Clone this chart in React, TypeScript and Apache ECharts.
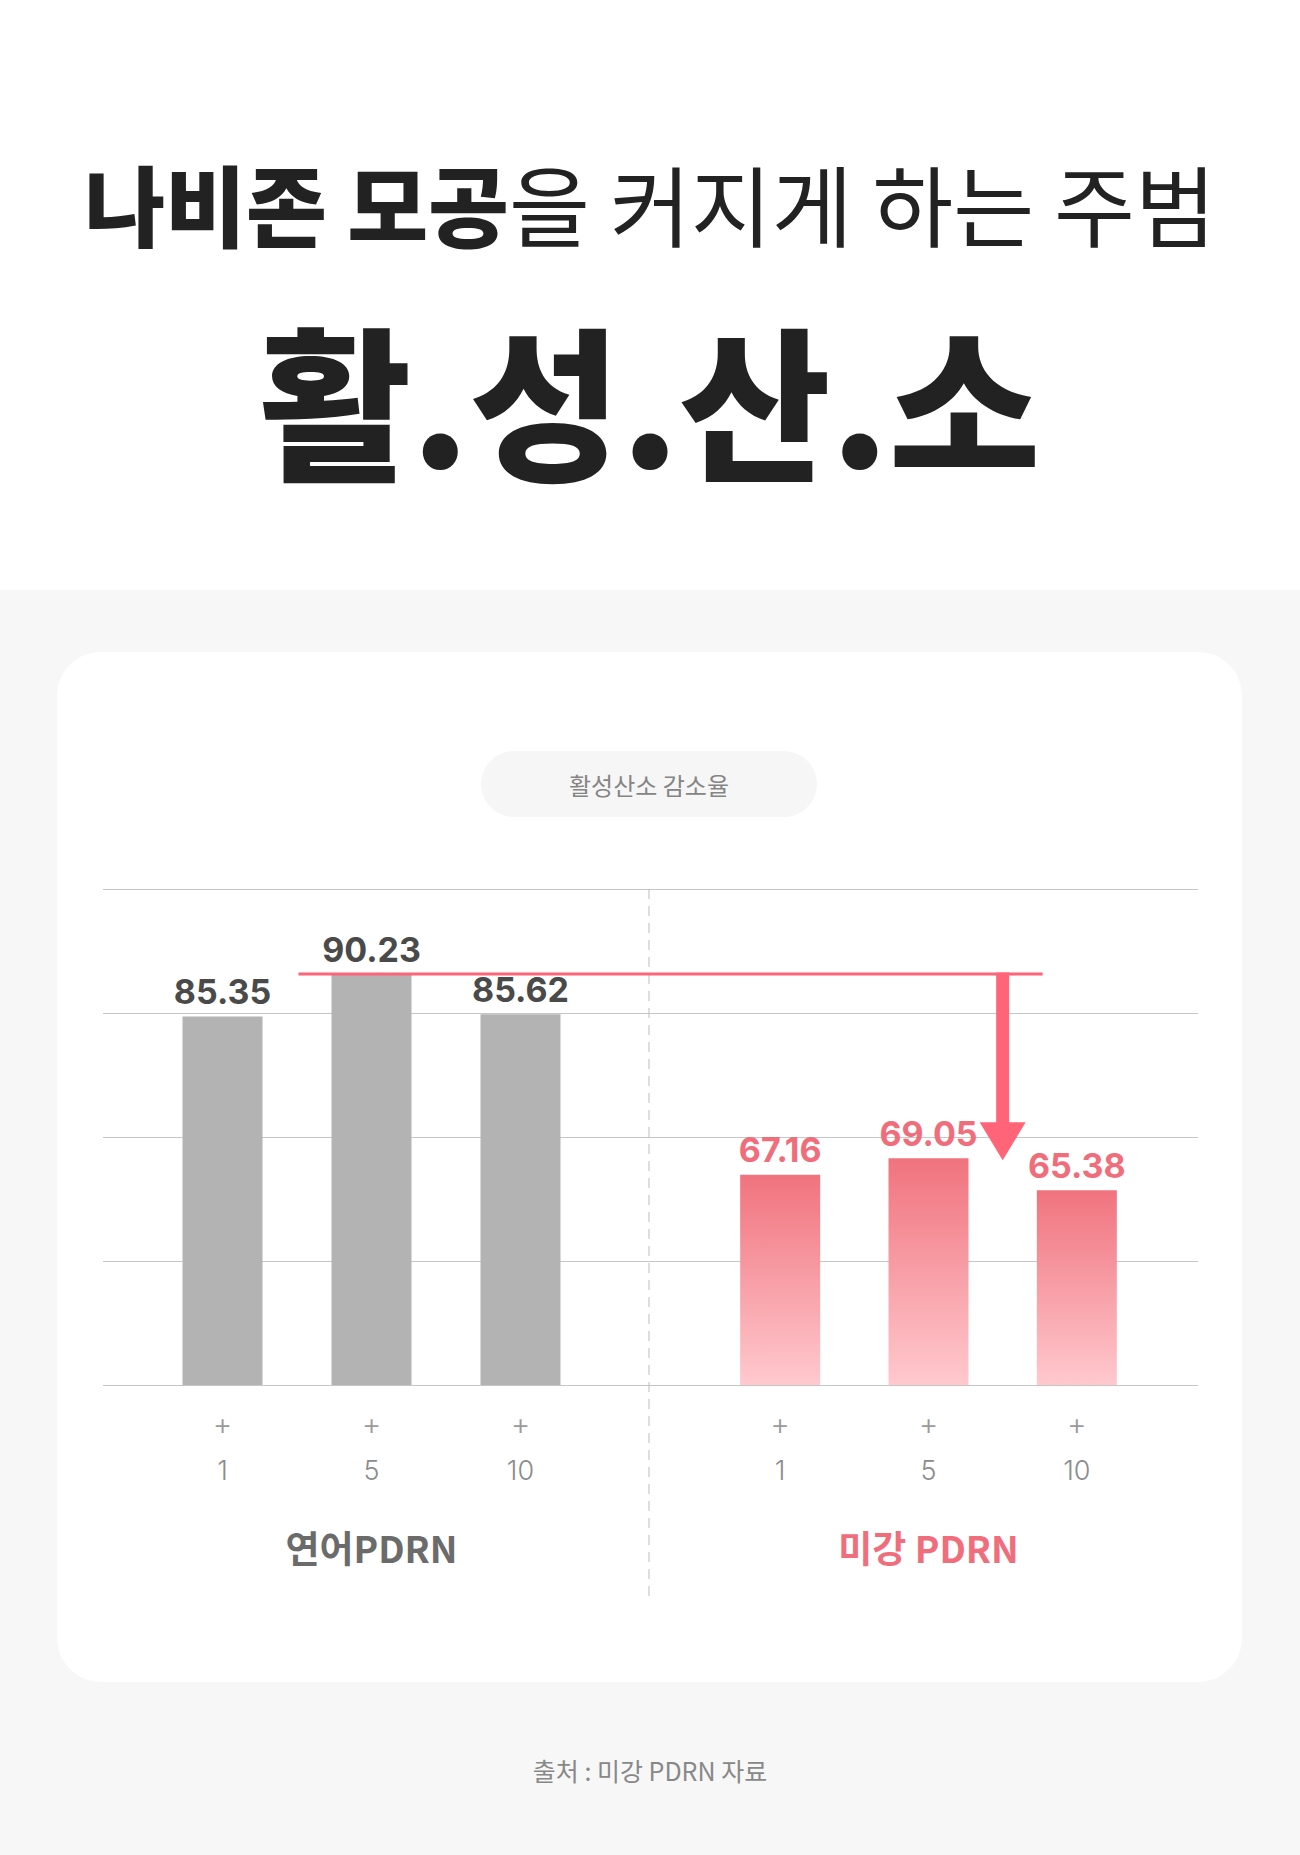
import React, { useEffect, useRef } from 'react';
import * as echarts from 'echarts';

// ---- content / data ----
const titleBold = '나비존 모공';
const titleRegular = '을 커지게 하는 주범';
const titleMain = '활.성.산.소';
const badgeText = '활성산소 감소율';
const sourceText = '출처 : 미강 PDRN 자료';
const groupNames = ['연어PDRN', '미강 PDRN'];
const doseLabels = ['1', '5', '10'];
const salmonValues = [85.35, 90.23, 85.62];
const riceValues = [67.16, 69.05, 65.38];
// value scale of the bars (unlabelled in the original)
const yMin = 43;
const yMax = 100;
// decorative horizontal guide lines: 4 equal bands
const guideBands = 4;

const KR = "'Noto Sans CJK KR', 'Noto Sans', sans-serif";
const NUM = "Inter, 'Noto Sans', sans-serif";
const PINK = '#f06d7c';
const LINE_RED = '#ff6479';

const GRID_TOP = 889;
const GRID_H = 496;

function makeXAxis(gridIndex: number, name: string, nameColor: string) {
  return {
    gridIndex,
    type: 'category',
    data: doseLabels,
    axisLine: { show: false },
    axisTick: { show: false },
    axisLabel: {
      margin: 16,
      formatter: (v: string) => `{p|+}\n{n|${v}}`,
      rich: {
        p: { fontSize: 30, fontWeight: 300, color: '#9a9a9a', lineHeight: 46, fontFamily: NUM },
        n: { fontSize: 27, fontWeight: 300, color: '#8c8c8c', lineHeight: 46, fontFamily: NUM },
      },
    },
    name,
    nameLocation: 'middle',
    nameGap: 142,
    nameTextStyle: {
      fontSize: 37,
      fontWeight: 'bold',
      color: nameColor,
      fontFamily: KR,
      lineHeight: 40,
    },
  };
}

function makeValueAxis(gridIndex: number) {
  return {
    gridIndex,
    type: 'value',
    min: yMin,
    max: yMax,
    show: false,
    splitLine: { show: false },
  };
}

export default function App() {
  const ref = useRef<HTMLDivElement>(null);

  useEffect(() => {
    document.body.style.margin = '0';
    if (!ref.current) return;
    const chart = echarts.init(ref.current, undefined, { renderer: 'svg' });

    const labelStyle = (color: string) => ({
      show: true,
      position: 'top',
      distance: 8,
      fontSize: 34,
      fontWeight: 700,
      fontFamily: NUM,
      color,
    });

    chart.setOption({
      animation: false,
      backgroundColor: '#f7f7f7',
      grid: [
        { left: 103, width: 1095, top: GRID_TOP, height: GRID_H },
        { left: 148, width: 447, top: GRID_TOP, height: GRID_H },
        { left: 706, width: 445, top: GRID_TOP, height: GRID_H },
      ],
      xAxis: [
        { gridIndex: 0, type: 'category', data: [''], show: false },
        makeXAxis(1, groupNames[0], '#6b6b6b'),
        makeXAxis(2, groupNames[1], PINK),
      ],
      yAxis: [
        {
          gridIndex: 0,
          type: 'value',
          min: 0,
          max: guideBands,
          interval: 1,
          axisLabel: { show: false },
          axisLine: { show: false },
          axisTick: { show: false },
          splitLine: { show: true, lineStyle: { color: '#c6c6c6', width: 1 } },
        },
        makeValueAxis(1),
        makeValueAxis(2),
      ],
      series: [
        {
          type: 'bar',
          xAxisIndex: 1,
          yAxisIndex: 1,
          data: salmonValues,
          barWidth: 80,
          itemStyle: { color: '#b3b3b3' },
          label: labelStyle('#4a4a4a'),
          z: 3,
        },
        {
          type: 'bar',
          xAxisIndex: 2,
          yAxisIndex: 2,
          data: riceValues,
          barWidth: 80,
          itemStyle: {
            color: new echarts.graphic.LinearGradient(0, 0, 0, 1, [
              { offset: 0, color: '#f0737e' },
              { offset: 1, color: '#ffc9ce' },
            ]),
          },
          label: labelStyle(PINK),
          z: 3,
        },
      ],
    });

    const lineY = chart.convertToPixel({ yAxisIndex: 1 } as any, salmonValues[1]) as number;
    const peakX = chart.convertToPixel({ xAxisIndex: 1 } as any, 1) as number;
    const r5 = chart.convertToPixel({ xAxisIndex: 2 } as any, 1) as number;
    const r10 = chart.convertToPixel({ xAxisIndex: 2 } as any, 2) as number;
    const arrowX = (r5 + r10) / 2;
    const tipY = (chart.convertToPixel({ yAxisIndex: 2 } as any, riceValues[2]) as number) - 30;
    const headH = 38;
    const headW = 46;
    const dividerX = 649;

    chart.setOption({
      graphic: {
        elements: [
          { type: 'rect', id: 'topbg', z: -20, shape: { x: 0, y: 0, width: 1300, height: 590 }, style: { fill: '#ffffff' } },
          { type: 'rect', id: 'card', z: -20, shape: { x: 57, y: 652, width: 1185, height: 1030, r: 44 }, style: { fill: '#ffffff' } },
          { type: 'rect', id: 'pill', z: -10, shape: { x: 481, y: 751, width: 336, height: 66, r: 33 }, style: { fill: '#f6f6f6' } },
          {
            type: 'text', id: 'badge', z: 5, x: 649, y: 784,
            style: { text: badgeText, fill: '#858585', font: `400 24px ${KR}`, align: 'center', verticalAlign: 'middle' },
          },
          {
            type: 'text', id: 'title1', z: 5, x: 650, y: 201,
            style: {
              text: `{b|${titleBold}}{r|${titleRegular}}`,
              align: 'center',
              verticalAlign: 'middle',
              rich: {
                b: { fontSize: 88, fontWeight: 900, fontFamily: KR, fill: '#222222' },
                r: { fontSize: 88, fontWeight: 400, fontFamily: KR, fill: '#222222' },
              },
            },
          },
          {
            type: 'text', id: 'title2', z: 5, x: 650, y: 396,
            style: { text: titleMain, fill: '#222222', font: `900 165px ${KR}`, align: 'center', verticalAlign: 'middle' },
          },
          {
            type: 'text', id: 'source', z: 5, x: 650, y: 1770,
            style: { text: sourceText, fill: '#888888', font: `400 25px ${KR}`, align: 'center', verticalAlign: 'middle' },
          },
          {
            type: 'line', id: 'divider', z: 1,
            shape: { x1: dividerX, y1: GRID_TOP, x2: dividerX, y2: 1600 },
            style: { stroke: '#bdbdbd', lineWidth: 1, lineDash: [10, 7] },
          },
          {
            type: 'rect', id: 'hline', z: 10,
            shape: { x: peakX - 73, y: lineY - 1.5, width: arrowX + 40 - (peakX - 73), height: 3 },
            style: { fill: LINE_RED },
          },
          {
            type: 'rect', id: 'shaft', z: 10,
            shape: { x: arrowX - 6.5, y: lineY - 1.5, width: 13, height: tipY - headH - lineY + 3 },
            style: { fill: LINE_RED },
          },
          {
            type: 'polygon', id: 'head', z: 10,
            shape: { points: [[arrowX - headW / 2, tipY - headH], [arrowX + headW / 2, tipY - headH], [arrowX, tipY]] },
            style: { fill: LINE_RED },
          },
        ],
      },
    });

    return () => chart.dispose();
  }, []);

  return <div ref={ref} style={{ width: 1300, height: 1855 }} />;
}
